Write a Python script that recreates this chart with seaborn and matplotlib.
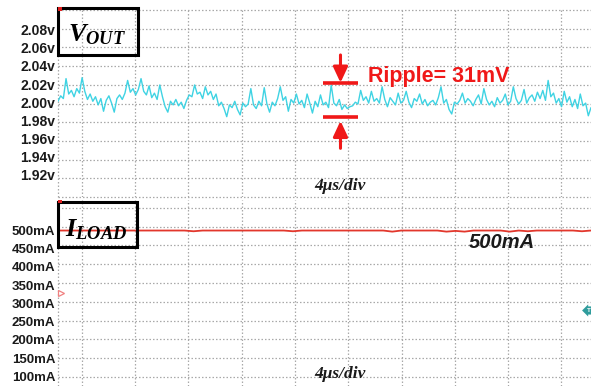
import numpy as np
import pandas as pd
import matplotlib
matplotlib.use("Agg")
import matplotlib.pyplot as plt
import seaborn as sns
from matplotlib.lines import Line2D
from matplotlib.patches import Rectangle

# ---------------- data ----------------
# V_OUT trace, mV, evenly sampled across the 10-division window
vout_mv = [
    2001, 2007, 2004, 2026, 2009, 2013, 2006, 2015, 2010, 2027,
    2012, 2003, 2009, 2001, 2006, 1997, 2004, 1990, 2002, 2007,
    1999, 1989, 2004, 2008, 2003, 2010, 2024, 2011, 2015, 2008,
    2014, 2026, 2012, 2008, 2018, 2005, 2010, 2003, 2019, 2006,
    1995, 1989, 2001, 1997, 2003, 1996, 2000, 1993, 2002, 2008,
    2006, 2019, 2009, 2011, 2004, 2017, 2008, 2012, 2003, 2009,
    1996, 2000, 1993, 1984, 1997, 1994, 2001, 1992, 1986, 1999,
    1995, 1998, 2015, 1997, 1993, 2001, 1996, 2016, 1998, 1989,
    2000, 1996, 2004, 2017, 2002, 2006, 1990, 2003, 1999, 2009,
    1998, 2002, 1994, 2009, 1999, 1988, 2001, 1995, 2008, 1997,
    2000, 1994, 2019, 1999, 1996, 2003, 1992, 1997, 1993, 1995,
    1996, 2000, 1998, 2013, 2002, 2006, 1999, 2012, 2001, 2004,
    1999, 2017, 2003, 1995, 2005, 2001, 1997, 2010, 1999, 2002,
    2012, 2000, 1994, 2004, 2001, 2009, 1998, 2003, 1996, 2000,
    2002, 1997, 2005, 2017, 1999, 2003, 1992, 1987, 2000, 1998,
    2002, 2010, 1999, 2004, 2001, 1996, 2003, 2008, 1998, 2015,
    2003, 1997, 2001, 1995, 2005, 1999, 2002, 2009, 1997, 2001,
    2017, 2004, 1998, 2002, 2014, 1999, 2005, 2008, 2001, 2011,
    2004, 2013, 2002, 2024, 2006, 2010, 1999, 2004, 1995, 2012,
    2000, 2006, 1995, 2003, 1993, 2009, 1996, 1999, 1985, 1994,
]
# I_LOAD trace, mA
iload_ma = [
    500, 500, 500, 500, 500, 500, 500, 500, 500, 500,
    500, 500, 500, 500, 500, 498, 500, 500, 500, 500,
    500, 500, 500, 500, 500, 500, 498, 500, 500, 500,
    500, 500, 500, 500, 500, 500, 500, 497, 500, 500,
    500, 500, 500, 497, 499, 497, 500, 500, 500, 500,
    497, 500, 498, 500, 500, 500, 500, 500, 498, 500,
]
vout_ticks = [1.92, 1.94, 1.96, 1.98, 2.00, 2.02, 2.04, 2.06, 2.08]
vout_ticklabels = ["1.92v", "1.94v", "1.96v", "1.98v", "2.00v",
                   "2.02v", "2.04v", "2.06v", "2.08v"]
iload_ticks = [100, 150, 200, 250, 300, 350, 400, 450, 500]
iload_ticklabels = ["100mA", "150mA", "200mA", "250mA", "300mA",
                    "350mA", "400mA", "450mA", "500mA"]
time_window_us = (-1.78, 38.22)     # 10 divisions of 4 us
div_us = 4
ripple_band = (1.9834, 2.0215)      # V, marker bars
ripple_time = 19.42                 # us
ripple_label = "Ripple= 31mV"
load_label = "500mA"
timebase_label = "4\u03bcs/div"

# ---------------- style ----------------
sns.set_theme(style="white")
plt.rcParams["font.family"] = ["Liberation Sans", "DejaVu Sans"]
plt.rcParams["mathtext.fontset"] = "custom"
plt.rcParams["mathtext.it"] = "Liberation Serif:italic:bold"
plt.rcParams["mathtext.rm"] = "Liberation Serif:bold"
plt.rcParams["mathtext.bf"] = "Liberation Serif:bold"

W, H = 591, 386
fig = plt.figure(figsize=(W / 100, H / 100), dpi=100)
fig.patch.set_facecolor("white")


def fbox(x0, y0, x1, y1):
    return [x0 / W, 1 - y1 / H, (x1 - x0) / W, (y1 - y0) / H]


ax1 = fig.add_axes(fbox(58, 10, 591, 197))
ax2 = fig.add_axes(fbox(58, 200, 591, 386))

t_v = np.linspace(time_window_us[0], time_window_us[1], len(vout_mv))
t_i = np.linspace(time_window_us[0], time_window_us[1], len(iload_ma))
df_v = pd.DataFrame({"t": t_v, "v": np.array(vout_mv) / 1000.0})
df_i = pd.DataFrame({"t": t_i, "i": iload_ma})

CYAN = "#3fd3e3"
RED_TRACE = "#e2372c"
RED = "#f01818"

sns.lineplot(data=df_v, x="t", y="v", ax=ax1, color=CYAN, linewidth=1.0,
             estimator=None, sort=False, zorder=3)
sns.lineplot(data=df_i, x="t", y="i", ax=ax2, color=RED_TRACE, linewidth=1.3,
             estimator=None, sort=False, zorder=3)

ax1.set_ylim(1.8954, 2.1017)
ax2.set_ylim(73.3, 583.8)

grid_kw = dict(color="#a9a9a9", lw=0.9, ls=(0, (1.2, 1.6)), zorder=1)
for ax in (ax1, ax2):
    ax.set_facecolor("white")
    ax.set_xlim(*time_window_us)
    ax.set_xticks([])
    ax.set_xlabel("")
    ax.set_ylabel("")
    for s in ax.spines.values():
        s.set_visible(False)
    ax.tick_params(axis="y", length=0, pad=2)
    for x in np.arange(0, time_window_us[1], div_us):
        ax.axvline(x, **grid_kw)
    ax.add_line(Line2D([0, 0], [0, 1], transform=ax.transAxes,
                       clip_on=False, **grid_kw))

for k in range(11):
    f = k / 10
    ax1.add_line(Line2D([0, 1], [f, f], transform=ax1.transAxes,
                        clip_on=False, **grid_kw))
for k in range(10):
    f = (9 + 18.8 * k) / 186
    ax2.add_line(Line2D([0, 1], [f, f], transform=ax2.transAxes,
                        clip_on=False, **grid_kw))

ax1.set_yticks(vout_ticks)
ax1.set_yticklabels(vout_ticklabels, fontweight="bold", fontsize=10,
                    color="#1a1a1a")
ax2.set_yticks(iload_ticks)
ax2.set_yticklabels(iload_ticklabels, fontweight="bold", fontsize=9.5,
                    color="#1a1a1a")

# channel label boxes
for (x0, y0, x1, y1) in [(58.3, 8.3, 138.3, 55), (58.3, 201.7, 136.7, 246.7)]:
    fig.add_artist(Rectangle((x0 / W, 1 - y1 / H), (x1 - x0) / W, (y1 - y0) / H,
                             transform=fig.transFigure, fill=False,
                             ec="black", lw=2.2, zorder=6))
fig.text(97 / W, 1 - 35 / H, r"$V_{OUT}$", fontsize=19,
         ha="center", va="center", color="black")
fig.text(96.5 / W, 1 - 230 / H, r"$I_{LOAD}$", fontsize=19,
         ha="center", va="center", color="black")

# corner markers
for y in (7.5, 199.5):
    fig.add_artist(Rectangle((58 / W, 1 - (y + 3) / H), 4 / W, 3 / H,
                             transform=fig.transFigure, fc="#e02020",
                             ec="none", zorder=7))

# timebase labels
for y in (186, 374):
    fig.text(340 / W, 1 - y / H, timebase_label, fontsize=12.5,
             family="Liberation Serif", fontstyle="italic",
             fontweight="bold", ha="center", va="center", color="#1a1a1a")

# ripple annotation
half = 1.30
for yv in ripple_band:
    ax1.hlines(yv, ripple_time - half, ripple_time + half, color=RED,
               lw=2.6, zorder=5)
arrow_style = "-|>,head_length=0.47,head_width=0.22"
ax1.annotate("", xy=(ripple_time, ripple_band[1]),
             xytext=(ripple_time, 2.0521),
             arrowprops=dict(arrowstyle=arrow_style, color=RED, lw=2.2,
                             shrinkA=0, shrinkB=0, mutation_scale=20),
             zorder=5)
ax1.annotate("", xy=(ripple_time, ripple_band[0] - 0.004),
             xytext=(ripple_time, 1.9491),
             arrowprops=dict(arrowstyle=arrow_style, color=RED, lw=2.2,
                             shrinkA=0, shrinkB=0, mutation_scale=20),
             zorder=5)
fig.text(368 / W, 1 - 81.7 / H, ripple_label, color=RED, fontsize=15.5,
         fontweight="bold", ha="left", va="baseline")

# load level label
fig.text(501.7 / W, 1 - 242 / H, load_label, fontsize=14.5, fontweight="bold",
         fontstyle="italic", ha="center", va="center", color="#1a1a1a")

# scope markers
ax2.plot([0.006], [0.498], marker=">", ms=5, mfc="none", mec="#f08080",
         mew=0.9, transform=ax2.transAxes, clip_on=False)
ax2.text(0.999, 0.406, "T", transform=ax2.transAxes, ha="right", va="center",
         fontsize=4.5, color="white", fontweight="bold",
         bbox=dict(boxstyle="larrow,pad=0.25", fc="#2f9c9c", ec="none"))

fig.savefig("out.png", dpi=100, facecolor="white")
